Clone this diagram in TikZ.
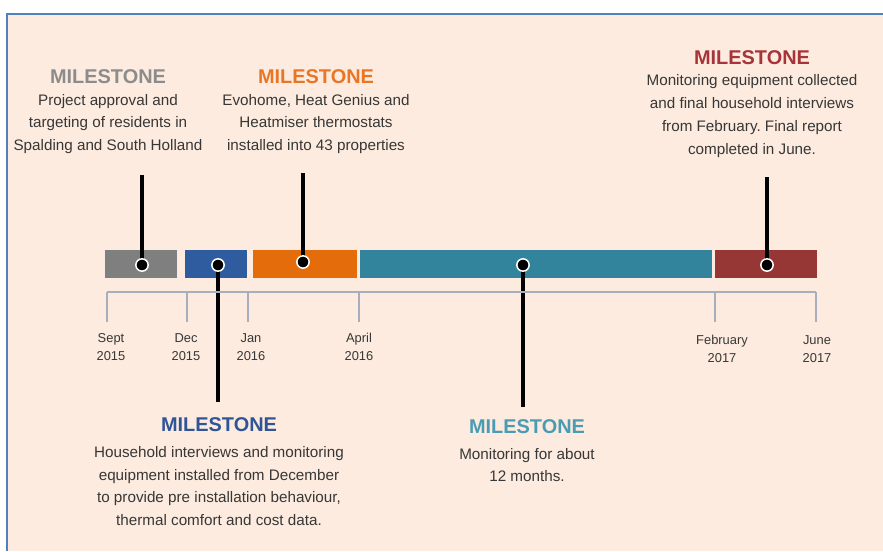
\documentclass[tikz,border=0pt]{standalone}
\usepackage{fontspec}
\setmainfont{Liberation Sans}
\frenchspacing
\pgfdeclarelayer{barlayer}
\pgfdeclarelayer{edgelayer}
\pgfdeclarelayer{nodelayer}
\pgfsetlayers{main,barlayer,edgelayer,nodelayer}
\definecolor{paper}{RGB}{252,235,222}
\definecolor{frame}{RGB}{79,129,189}
\definecolor{axisgray}{RGB}{165,175,190}
\definecolor{txtgray}{RGB}{55,55,55}
\definecolor{grayph}{RGB}{127,127,127}
\definecolor{blueph}{RGB}{47,92,158}
\definecolor{orangeph}{RGB}{228,108,10}
\definecolor{tealph}{RGB}{49,132,155}
\definecolor{redph}{RGB}{150,55,53}
\definecolor{graytl}{RGB}{140,140,140}
\definecolor{bluetl}{RGB}{47,85,151}
\definecolor{orangetl}{RGB}{232,118,38}
\definecolor{tealtl}{RGB}{75,155,180}
\definecolor{redtl}{RGB}{166,52,56}
\tikzstyle{none}=[inner sep=0pt]
\tikzstyle{title}=[inner sep=0pt,font=\fontsize{17}{20}\selectfont\bfseries]
\tikzstyle{body}=[inner sep=0pt,align=center,text=txtgray,font=\fontsize{13}{19.5}\selectfont]
\tikzstyle{date}=[inner sep=0pt,align=center,text=txtgray,font=\fontsize{11}{16}\selectfont]
\tikzstyle{dot}=[circle,fill=black,draw=white,line width=1.3pt,minimum size=0.37cm,inner sep=0pt]
\tikzstyle{stem}=[draw=black,line width=3.2pt]
\tikzstyle{tick}=[draw=axisgray,line width=1.2pt]

\begin{document}
\begin{tikzpicture}[x=0.03cm,y=-0.03cm]
	\useasboundingbox (0,0) rectangle (883,551);
	\fill [paper] (7,14) rectangle (883,551);
	\draw [frame,line width=1.7pt] (7,551) -- (7,14) -- (883,14);
	\begin{pgfonlayer}{barlayer}
		\fill [grayph] (105,250) rectangle (177,278);
		\fill [blueph] (185,250) rectangle (247,278);
		\fill [orangeph] (253,250) rectangle (357,278);
		\fill [tealph] (360,250) rectangle (712,278);
		\fill [redph] (715,250) rectangle (817,278);
	\end{pgfonlayer}
	\begin{pgfonlayer}{nodelayer}
		% milestones
		\node [style=title,text=graytl] (0) at (108,77) {MILESTONE};
		\node [style=body] (1) at (108,124) {Project approval and\\targeting of residents in\\Spalding and South Holland};
		\node [style=title,text=orangetl] (2) at (316,77) {MILESTONE};
		\node [style=body] (3) at (316,124) {Evohome, Heat Genius and\\Heatmiser thermostats\\installed into 43 properties};
		\node [style=title,text=redtl] (4) at (752,58) {MILESTONE};
		\node [style=body] (5) at (752,116) {Monitoring equipment collected\\and final household interviews\\from February. Final report\\completed in June.};
		\node [style=title,text=bluetl] (6) at (219,425) {MILESTONE};
		\node [style=body] (7) at (219,486) {Household interviews and monitoring\\equipment installed from December\\to provide pre installation behaviour,\\thermal comfort and cost data.};
		\node [style=title,text=tealtl] (8) at (527,427) {MILESTONE};
		\node [style=body] (9) at (527,465) {Monitoring for about\\12 months.};
		% dots
		\node [style=dot] (10) at (142,265) {};
		\node [style=dot] (11) at (218,265) {};
		\node [style=dot] (12) at (303,262) {};
		\node [style=dot] (13) at (523,265) {};
		\node [style=dot] (14) at (767,265) {};
		% dates
		\node [style=date] (15) at (111,347) {Sept\\2015};
		\node [style=date] (16) at (186,347) {Dec\\2015};
		\node [style=date] (17) at (251,347) {Jan\\2016};
		\node [style=date] (18) at (359,347) {April\\2016};
		\node [style=date] (19) at (722,349) {February\\2017};
		\node [style=date] (20) at (817,349) {June\\2017};
	\end{pgfonlayer}
	\coordinate (21) at (142,175);
	\coordinate (22) at (218,402);
	\coordinate (23) at (303,173);
	\coordinate (24) at (523,407);
	\coordinate (25) at (767,177);
	\coordinate (26) at (107,292);
	\coordinate (27) at (187,292);
	\coordinate (28) at (248,292);
	\coordinate (29) at (359,292);
	\coordinate (30) at (715,292);
	\coordinate (31) at (816,292);
	\coordinate (32) at (107,322);
	\coordinate (33) at (187,322);
	\coordinate (34) at (248,322);
	\coordinate (35) at (359,322);
	\coordinate (36) at (715,322);
	\coordinate (37) at (816,322);
	\begin{pgfonlayer}{edgelayer}
		\draw [style=stem] (21) to (10.center);
		\draw [style=stem] (11.center) to (22);
		\draw [style=stem] (23) to (12.center);
		\draw [style=stem] (13.center) to (24);
		\draw [style=stem] (25) to (14.center);
		\draw [style=tick] (26) to (31);
		\draw [style=tick] (26) to (32);
		\draw [style=tick] (27) to (33);
		\draw [style=tick] (28) to (34);
		\draw [style=tick] (29) to (35);
		\draw [style=tick] (30) to (36);
		\draw [style=tick] (31) to (37);
	\end{pgfonlayer}
\end{tikzpicture}
\end{document}
